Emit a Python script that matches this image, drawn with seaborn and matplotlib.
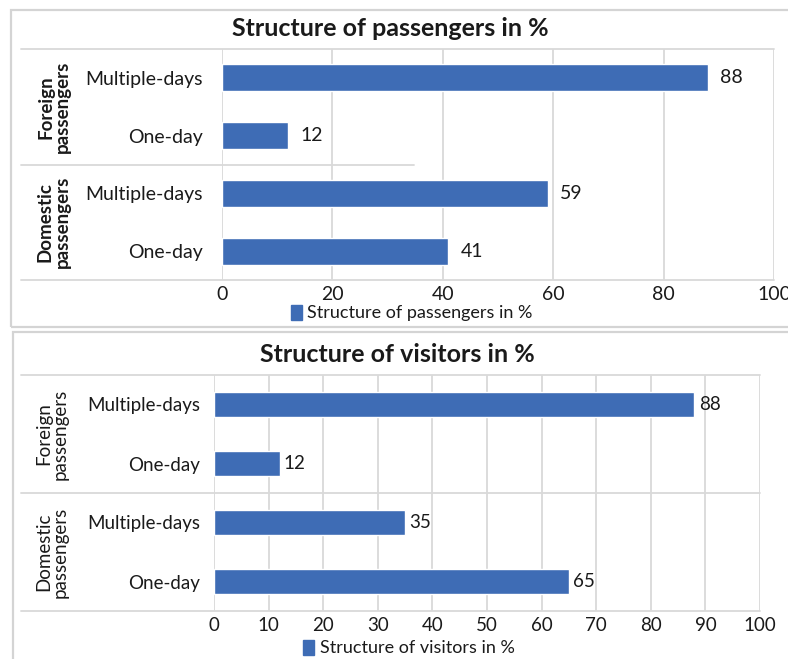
import matplotlib
matplotlib.use("Agg")
import matplotlib.pyplot as plt
import seaborn as sns
import pandas as pd
from matplotlib.lines import Line2D
from matplotlib.patches import Rectangle, Patch

sns.set_theme(style="white")
plt.rcParams['font.family'] = ['Lato', 'DejaVu Sans']

# ---- data ----
groups = ["Foreign\npassengers", "Foreign\npassengers", "Domestic\npassengers", "Domestic\npassengers"]
group_names = ["Foreign\npassengers", "Domestic\npassengers"]
stay_labels = ["Multiple-days", "One-day", "Multiple-days", "One-day"]
passengers_pct = [88, 12, 59, 41]
visitors_pct = [88, 12, 35, 65]
title_top = "Structure of passengers in %"
title_bottom = "Structure of visitors in %"
ticks_top = [0, 20, 40, 60, 80, 100]
ticks_bottom = [0, 10, 20, 30, 40, 50, 60, 70, 80, 90, 100]

BAR = "#3E6CB5"
GRID = "#d9d9d9"
TXT = "#1a1a1a"
W, H = 788, 659

fig = plt.figure(figsize=(W / 100, H / 100), dpi=100)


def fx(px):
    return px / W


def fy(py):
    return 1 - py / H


def hline(x0, x1, y, color=GRID, lw=1.3):
    fig.add_artist(Line2D([fx(x0), fx(x1)], [fy(y), fy(y)], transform=fig.transFigure,
                          color=color, lw=lw))


# panel frames
fig.add_artist(Rectangle((fx(11), fy(327)), fx(800) - fx(11), fy(10) - fy(327),
                         transform=fig.transFigure, fill=False, edgecolor="#d4d4d4", lw=1.6))
fig.add_artist(Rectangle((fx(13), fy(670)), fx(800) - fx(13), fy(332) - fy(670),
                         transform=fig.transFigure, fill=False, edgecolor="#d4d4d4", lw=1.6))


def panel(values, left, right, top, bottom, ticks, title, title_y, bw, pad_lab,
          lab_pad, group_x, sep_x1, legend_xy, weight, gweight, title_x, fs):
    ax = fig.add_axes([fx(left), fy(bottom), fx(right) - fx(left), fy(top) - fy(bottom)])
    keys = [f"{g}|{s}|{i}" for i, (g, s) in enumerate(zip(groups, stay_labels))]
    df = pd.DataFrame({"key": keys, "value": values})
    sns.barplot(data=df, y="key", x="value", orient="h", color=BAR, width=bw,
                saturation=1, ax=ax, zorder=3)
    ax.set_xlim(0, 100)
    ax.set_ylim(3.5, -0.5)
    ax.set_xticks(ticks)
    ax.set_xticklabels([str(t) for t in ticks], fontsize=fs, color=TXT, fontweight=weight)
    ax.set_yticks(range(len(keys)))
    ax.set_yticklabels(stay_labels, fontsize=fs, color=TXT, fontweight=weight)
    ax.tick_params(axis="y", length=0, pad=lab_pad)
    ax.tick_params(axis="x", length=0, pad=4)
    ax.set_xlabel("")
    ax.set_ylabel("")
    for s in ax.spines.values():
        s.set_visible(False)
    ax.grid(axis="x", color=GRID, lw=1.3, zorder=0)
    ax.grid(axis="y", visible=False)
    ax.set_facecolor("none")
    for c in ax.containers:
        ax.bar_label(c, labels=[str(v) for v in values], padding=pad_lab, fontsize=fs,
                     color=TXT, fontweight=weight)
    # table lines
    hline(21, right, top)
    hline(21, right, bottom)
    mid = (top + bottom) / 2
    hline(21, sep_x1, mid)
    # group labels
    for gi, gname in enumerate(group_names):
        yc = (top + mid) / 2 if gi == 0 else (mid + bottom) / 2
        fig.text(fx(group_x), fy(yc), gname, rotation=90, ha="center", va="center",
                 multialignment="center", fontsize=13.5, color=TXT, fontweight=gweight,
                 linespacing=1.0)
    fig.text(fx(title_x), fy(title_y), title, ha="center", va="center", fontsize=18,
             fontweight="bold", color=TXT)
    leg = fig.legend(handles=[Patch(color=BAR, label=title)], loc="center",
                     bbox_to_anchor=(fx(legend_xy[0]), fy(legend_xy[1])), frameon=False,
                     fontsize=13, handlelength=0.6, handleheight=0.9, handletextpad=0.3,
                     borderaxespad=0, borderpad=0)
    for t in leg.get_texts():
        t.set_color(TXT)
    return ax


panel(passengers_pct, 222, 774, 49, 280, ticks_top, title_top, 29, 0.47, 9, 14,
      54, 414, (412, 313), "normal", "bold", 390, 14)
panel(visitors_pct, 214, 760, 375, 611, ticks_bottom, title_bottom, 354, 0.44, 3, 10,
      52, 760, (409, 648), "normal", "normal", 397, 13.5)

fig.savefig("out.png", dpi=100, facecolor="white")
